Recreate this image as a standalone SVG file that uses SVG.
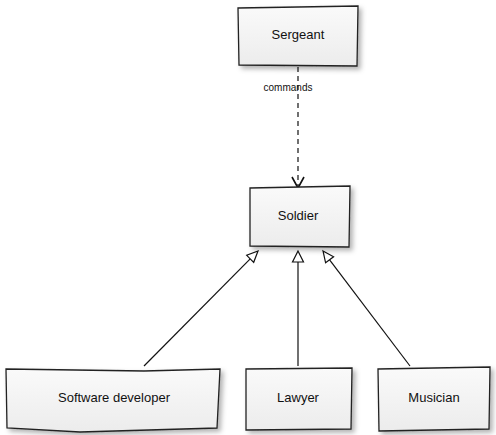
<svg xmlns="http://www.w3.org/2000/svg" width="496" height="435" viewBox="0 0 496 435">
<style>
.box{fill:url(#g);stroke:#222;stroke-width:1.3;filter:url(#sh)}
.t{font-family:"Liberation Sans",Arial,sans-serif;font-size:13px;fill:#111;text-anchor:middle}
.e{fill:none;stroke:#111;stroke-width:1.2}
.h{fill:#fff;stroke:#111;stroke-width:1.2;stroke-linejoin:miter}
</style>
<defs>
<linearGradient id="g" x1="0" y1="0" x2="0" y2="1"><stop offset="0" stop-color="#fafafa"/><stop offset="1" stop-color="#ececec"/></linearGradient>
<filter id="sh" x="-20%" y="-20%" width="150%" height="150%"><feDropShadow dx="3" dy="3" stdDeviation="2.5" flood-color="#000" flood-opacity="0.3"/></filter>
</defs>
<g id="connectors">
<path class="e" d="M298,67 L298,187" stroke-dasharray="5,4"/>
<path d="M292,177 L298,188 L304,177" fill="none" stroke="#111" stroke-width="1.6"/>
<text class="t" x="288" y="91" style="font-size:10px">commands</text>
<path class="e" d="M144,366 L250.2,258.8"/>
<path class="h" d="M258,251 L253.7,262.3 L246.7,255.3 Z"/>
<path class="e" d="M298,366 L298,262"/>
<path class="h" d="M298,251 L292.5,262 L303.5,262 Z"/>
<path class="e" d="M410,366 L329.6,259.8"/>
<path class="h" d="M323,251 L333.6,256.8 L325.6,262.8 Z"/>
</g>
<g id="sergeant">
<path class="box" d="M238,8 L358,6 L357,66 L239,65 Z"/>
<text class="t" x="298" y="39">Sergeant</text>
</g>
<g id="soldier">
<path class="box" d="M250,188 L350,186 L349,247 L250,246 Z"/>
<text class="t" x="298" y="220">Soldier</text>
</g>
<g id="software-developer">
<path class="box" d="M6,369 L144,371 L220,369 L217,428 L80,432 L7,428 Z"/>
<text class="t" x="114" y="402">Software developer</text>
</g>
<g id="lawyer">
<path class="box" d="M246,369 L352,368 L351,429 L246,430 Z"/>
<text class="t" x="298" y="402">Lawyer</text>
</g>
<g id="musician">
<path class="box" d="M378,369 L490,367 L489,429 L379,431 Z"/>
<text class="t" x="434" y="402">Musician</text>
</g>
</svg>
